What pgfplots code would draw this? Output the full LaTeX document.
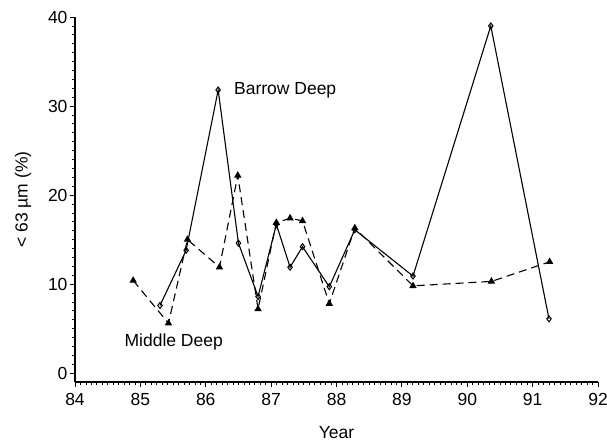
\documentclass[border=0pt]{standalone}
\usepackage{pgfplots}
\pgfplotsset{compat=1.18}
\usepackage{fontspec}
\setmainfont{Liberation Sans}
\begin{document}
\begin{tikzpicture}
\begin{axis}[
  scale only axis,
  width=523pt, height=365pt,
  xmin=84, xmax=92, ymin=-1, ymax=40,
  axis lines*=left,
  axis line style={line width=1.3pt},
  xtick={84,85,...,92}, ytick={0,10,20,30,40},
  minor x tick num=11, minor y tick num=9,
  tick align=outside,
  major tick length=5pt, minor tick length=2.5pt,
  tick style={black, line width=0.9pt},
  minor tick style={line width=0.7pt},
  /pgf/number format/assume math mode=true,
  ticklabel style={font=\fontsize{17.5}{20}\selectfont},
  xticklabel style={yshift=-3pt},
  yticklabel style={xshift=1pt},
  label style={font=\fontsize{17.5}{20}\selectfont},
  xlabel={Year},
  ylabel={< 63 µm (\%)},
  xlabel style={yshift=-14pt},
  ylabel style={yshift=10pt},
  clip=false,
]
\addplot[black, line width=1.1pt, mark=diamond, mark size=3pt, mark options={solid, fill=white, line width=1pt}]
coordinates {
(85.30,7.6) (85.70,13.8) (86.19,31.8) (86.50,14.6) (86.80,8.6) (87.08,16.7)
(87.29,11.9) (87.48,14.2) (87.89,9.7) (88.28,16.1) (89.17,10.9) (90.36,39.0) (91.25,6.1)
};
\addplot[black, line width=1.1pt, dash pattern=on 8pt off 5pt, mark=triangle*, mark size=3.2pt, mark options={solid, fill=black}]
coordinates {
(84.89,10.4) (85.43,5.6) (85.72,15.0) (86.21,11.9) (86.49,22.2) (86.80,7.2)
(87.08,16.9) (87.29,17.4) (87.48,17.1) (87.89,7.8) (88.28,16.3) (89.17,9.8)
(90.37,10.3) (91.26,12.5)
};
\node[anchor=west, font=\fontsize{17.5}{20}\selectfont] at (axis cs:86.38,31.8) {Barrow Deep};
\node[font=\fontsize{17.5}{20}\selectfont] at (axis cs:85.51,3.5) {Middle Deep};
\end{axis}
\pgfresetboundingbox
\path[use as bounding box] ([shift={(-75pt,-63pt)}]current axis.south west) rectangle ([shift={(9pt,17pt)}]current axis.north east);
\end{tikzpicture}
\end{document}
